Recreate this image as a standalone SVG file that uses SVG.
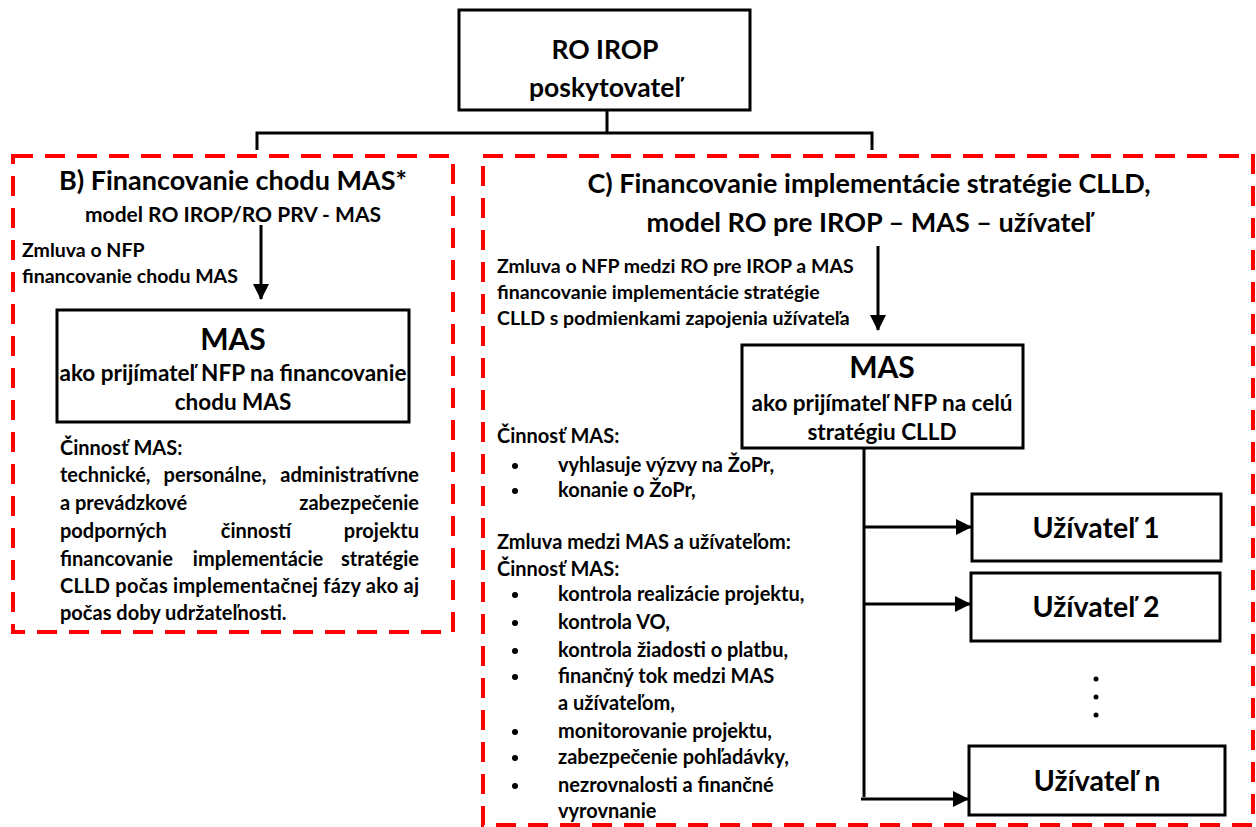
<svg xmlns="http://www.w3.org/2000/svg" width="1256" height="827" viewBox="0 0 1256 827">
<defs>
<marker id="ah" markerWidth="16" markerHeight="16" viewBox="0 0 16 16" refX="15" refY="8" orient="auto" markerUnits="userSpaceOnUse">
<path d="M0,0 L16,8 L0,16 Z" fill="#000"/>
</marker>
<style>
text{font-family:Lato,"Liberation Sans",sans-serif;font-weight:bold;fill:#000}
.box{fill:#fff;stroke:#000;stroke-width:3}
.panel{fill:none;stroke:#ff0000;stroke-width:4;stroke-dasharray:20 12}
.ln{fill:none;stroke:#000;stroke-width:3}
.ar{fill:none;stroke:#000;stroke-width:3;marker-end:url(#ah)}
.c{text-anchor:middle}
.e{text-anchor:end}
.ttl{font-size:27px}
.big{font-size:30px}
.usr{font-size:28.5px}
.ro{font-size:26.5px}
.sub{font-size:21px}
.inb{font-size:22.5px}
.lbl{font-size:19.5px}
.body{font-size:20px}
</style>
</defs>
<rect width="1256" height="827" fill="#fff"/>

<g id="panel-b">
<rect class="panel" x="13" y="156" width="440" height="476"/>
<text class="c ttl" x="233" y="190">B) Financovanie chodu MAS*</text>
<text class="c sub" x="233" y="222">model RO IROP/RO PRV - MAS</text>
<text class="lbl" x="22" y="257">Zmluva o NFP</text>
<text class="lbl" x="22" y="283">financovanie chodu MAS</text>
<text class="body" x="60" y="455">Činnosť MAS:</text>
<text class="body" y="482"><tspan x="60">technické,</tspan><tspan class="c" x="215">personálne,</tspan><tspan class="e" x="419">administratívne</tspan></text>
<text class="body" y="510"><tspan x="60">a prevádzkové</tspan><tspan class="e" x="419">zabezpečenie</tspan></text>
<text class="body" y="538"><tspan x="60">podporných</tspan><tspan class="c" x="256">činností</tspan><tspan class="e" x="419">projektu</tspan></text>
<text class="body" y="566"><tspan x="60">financovanie</tspan><tspan class="c" x="258">implementácie</tspan><tspan class="e" x="419">stratégie</tspan></text>
<text class="body" x="60" y="593" textLength="359" lengthAdjust="spacing">CLLD počas implementačnej fázy ako aj</text>
<text class="body" x="60" y="620">počas doby udržateľnosti.</text>
</g>

<g id="panel-c">
<rect class="panel" x="483" y="156" width="770" height="669"/>
<text class="c ttl" x="869" y="193">C) Financovanie implementácie stratégie CLLD,</text>
<text class="c ttl" x="869" y="232">model RO pre IROP – MAS – užívateľ</text>
<text class="lbl" x="497" y="273">Zmluva o NFP medzi RO pre IROP a MAS</text>
<text class="lbl" x="497" y="299">financovanie implementácie stratégie</text>
<text class="lbl" x="497" y="325">CLLD s podmienkami zapojenia užívateľa</text>
<text class="body" x="497" y="443">Činnosť MAS:</text>
<circle cx="515" cy="466" r="3"/><text class="body" x="558" y="472">vyhlasuje výzvy na ŽoPr,</text>
<circle cx="515" cy="491" r="3"/><text class="body" x="558" y="497">konanie o ŽoPr,</text>
<text class="body" x="497" y="549">Zmluva medzi MAS a užívateľom:</text>
<text class="body" x="497" y="576">Činnosť MAS:</text>
<circle cx="515" cy="595" r="3"/><text class="body" x="558" y="601">kontrola realizácie projektu,</text>
<circle cx="515" cy="623" r="3"/><text class="body" x="558" y="629">kontrola VO,</text>
<circle cx="515" cy="651" r="3"/><text class="body" x="558" y="657">kontrola žiadosti o platbu,</text>
<circle cx="515" cy="677" r="3"/><text class="body" x="558" y="683">finančný tok medzi MAS</text>
<text class="body" x="558" y="710">a užívateľom,</text>
<circle cx="515" cy="732" r="3"/><text class="body" x="558" y="738">monitorovanie projektu,</text>
<circle cx="515" cy="758" r="3"/><text class="body" x="558" y="764">zabezpečenie pohľadávky,</text>
<circle cx="515" cy="786" r="3"/><text class="body" x="558" y="792">nezrovnalosti a finančné</text>
<text class="body" x="558" y="818">vyrovnanie</text>
</g>

<g id="connectors">
<path class="ln" d="M607,110 V133 M257,150 V133 H872 V150"/>
<path class="ar" d="M261,225 V299"/>
<path class="ar" d="M878,246 V330"/>
<path class="ln" d="M864,449 V797"/>
<path class="ar" d="M864,527 H971"/>
<path class="ar" d="M864,604 H970"/>
<path class="ar" d="M861,799 H968"/>
</g>

<g id="node-ro-irop">
<rect class="box" x="459" y="10" width="291" height="100"/>
<text class="c ro" x="605" y="59">RO IROP</text>
<text class="c ro" x="605" y="97">poskytovateľ</text>
</g>

<g id="node-mas-b">
<rect class="box" x="57" y="310" width="352" height="112"/>
<text class="c big" x="233" y="350">MAS</text>
<text class="c inb" x="233" y="381">ako prijímateľ NFP na financovanie</text>
<text class="c inb" x="233" y="410">chodu MAS</text>
</g>

<g id="node-mas-c">
<rect class="box" x="742" y="345" width="281" height="103"/>
<text class="c big" x="882" y="378">MAS</text>
<text class="c inb" x="882" y="411">ako prijímateľ NFP na celú</text>
<text class="c inb" x="882" y="440">stratégiu CLLD</text>
</g>

<g id="node-uzivatel-1">
<rect class="box" x="972" y="494" width="249" height="67"/>
<text class="c usr" x="1096" y="538">Užívateľ 1</text>
</g>
<g id="node-uzivatel-2">
<rect class="box" x="971" y="573" width="249" height="68"/>
<text class="c usr" x="1096" y="617">Užívateľ 2</text>
</g>
<g id="ellipsis">
<circle cx="1096" cy="679" r="2.5"/>
<circle cx="1096" cy="697" r="2.5"/>
<circle cx="1096" cy="715" r="2.5"/>
</g>
<g id="node-uzivatel-n">
<rect class="box" x="969" y="746" width="256" height="69"/>
<text class="c usr" x="1097" y="791">Užívateľ n</text>
</g>
</svg>
